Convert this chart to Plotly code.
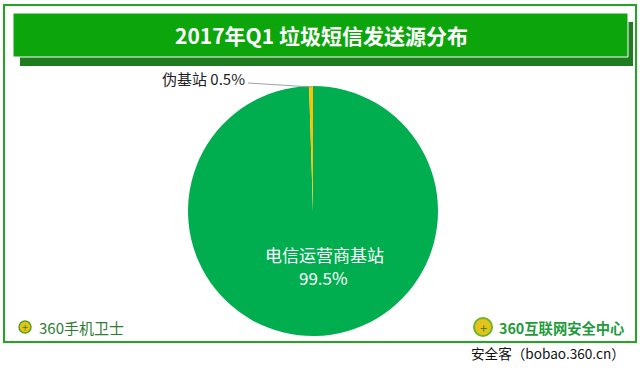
import plotly.graph_objects as go

# ---- data ----
title_text = "2017年Q1 垃圾短信发送源分布"
labels = ["电信运营商基站", "伪基站"]
values = [99.5, 0.5]
slice_colors = ["#00AE4F", "#FFC000"]
brand_left = "360手机卫士"
brand_right = "360互联网安全中心"
source_text = "安全客（bobao.360.cn）"

W, H = 640, 370
def px(x):
    return x / W
def py(y):
    return 1 - y / H

FONT = "Noto Sans CJK SC, Microsoft YaHei, sans-serif"

fig = go.Figure()
fig.add_trace(go.Pie(
    labels=labels, values=values, sort=False, direction="clockwise", rotation=0,
    marker=dict(colors=slice_colors, line=dict(width=0)),
    textinfo="none", hoverinfo="label+percent", showlegend=False,
    domain=dict(x=[px(188), px(438)], y=[py(336), py(86)]),
))

shapes = [
    # outer frame
    dict(type="rect", xref="paper", yref="paper", x0=px(4), x1=px(636), y0=py(342), y1=py(5),
         line=dict(color="#22A722", width=2), fillcolor="rgba(0,0,0,0)", layer="below"),
    # title shadow
    dict(type="rect", xref="paper", yref="paper", x0=px(20), x1=px(633), y0=py(66), y1=py(22),
         line=dict(width=0), fillcolor="#1E7B1E", layer="below"),
    # title bar
    dict(type="rect", xref="paper", yref="paper", x0=px(13), x1=px(628), y0=py(57), y1=py(13),
         line=dict(color="#FFFFFF", width=1), fillcolor="#0CA60C", layer="below"),
    # leader line for small slice
    dict(type="line", xref="paper", yref="paper", x0=px(248), y0=py(83), x1=px(312), y1=py(87),
         line=dict(color="#A0A0A0", width=1)),
    # left logo icon
    dict(type="circle", xref="paper", yref="paper", x0=px(19), x1=px(31), y0=py(333), y1=py(321),
         line=dict(color="#5A9E1E", width=1.5), fillcolor="#E8C21A"),
    # right logo icon
    dict(type="circle", xref="paper", yref="paper", x0=px(474), x1=px(492), y0=py(336), y1=py(318),
         line=dict(color="#6BB52A", width=2), fillcolor="#E8C21A"),
]

annotations = [
    dict(text="<b>" + title_text + "</b>", x=px(321), y=py(35), xref="paper", yref="paper",
         showarrow=False, font=dict(family=FONT, size=21, color="#FFFFFF"),
         xanchor="center", yanchor="middle"),
    dict(text=labels[0], x=px(324), y=py(255), xref="paper", yref="paper",
         showarrow=False, font=dict(family=FONT, size=17, color="#FFFFFF"),
         xanchor="center", yanchor="middle"),
    dict(text=f"{values[0]}%", x=px(323), y=py(277), xref="paper", yref="paper",
         showarrow=False, font=dict(family=FONT, size=17, color="#FFFFFF"),
         xanchor="center", yanchor="middle"),
    dict(text=f"{labels[1]} {values[1]}%", x=px(247), y=py(78), xref="paper", yref="paper",
         showarrow=False, font=dict(family=FONT, size=15, color="#222222"),
         xanchor="right", yanchor="middle"),
    dict(text="+", x=px(25), y=py(327), xref="paper", yref="paper", showarrow=False,
         font=dict(family=FONT, size=11, color="#3C8A14"), xanchor="center", yanchor="middle"),
    dict(text="+", x=px(483), y=py(327), xref="paper", yref="paper", showarrow=False,
         font=dict(family=FONT, size=13, color="#3C8A14"), xanchor="center", yanchor="middle"),
    dict(text=brand_left, x=px(37), y=py(327), xref="paper", yref="paper", showarrow=False,
         font=dict(family=FONT, size=15, color="#2F7D32"), xanchor="left", yanchor="middle"),
    dict(text="<b>" + brand_right + "</b>", x=px(497), y=py(327), xref="paper", yref="paper",
         showarrow=False, font=dict(family=FONT, size=14.3, color="#1E9B3A"),
         xanchor="left", yanchor="middle"),
    dict(text=source_text, x=px(627), y=py(353), xref="paper", yref="paper", showarrow=False,
         font=dict(family=FONT, size=13.6, color="#111111"), xanchor="right", yanchor="middle"),
]

fig.update_layout(
    width=W, height=H, margin=dict(l=0, r=0, t=0, b=0),
    paper_bgcolor="#FFFFFF", plot_bgcolor="#FFFFFF",
    shapes=shapes, annotations=annotations, showlegend=False,
)

fig.write_html("out.html", config={"displayModeBar": False},
               post_script="document.body.style.margin='0';document.body.style.overflow='hidden';")
